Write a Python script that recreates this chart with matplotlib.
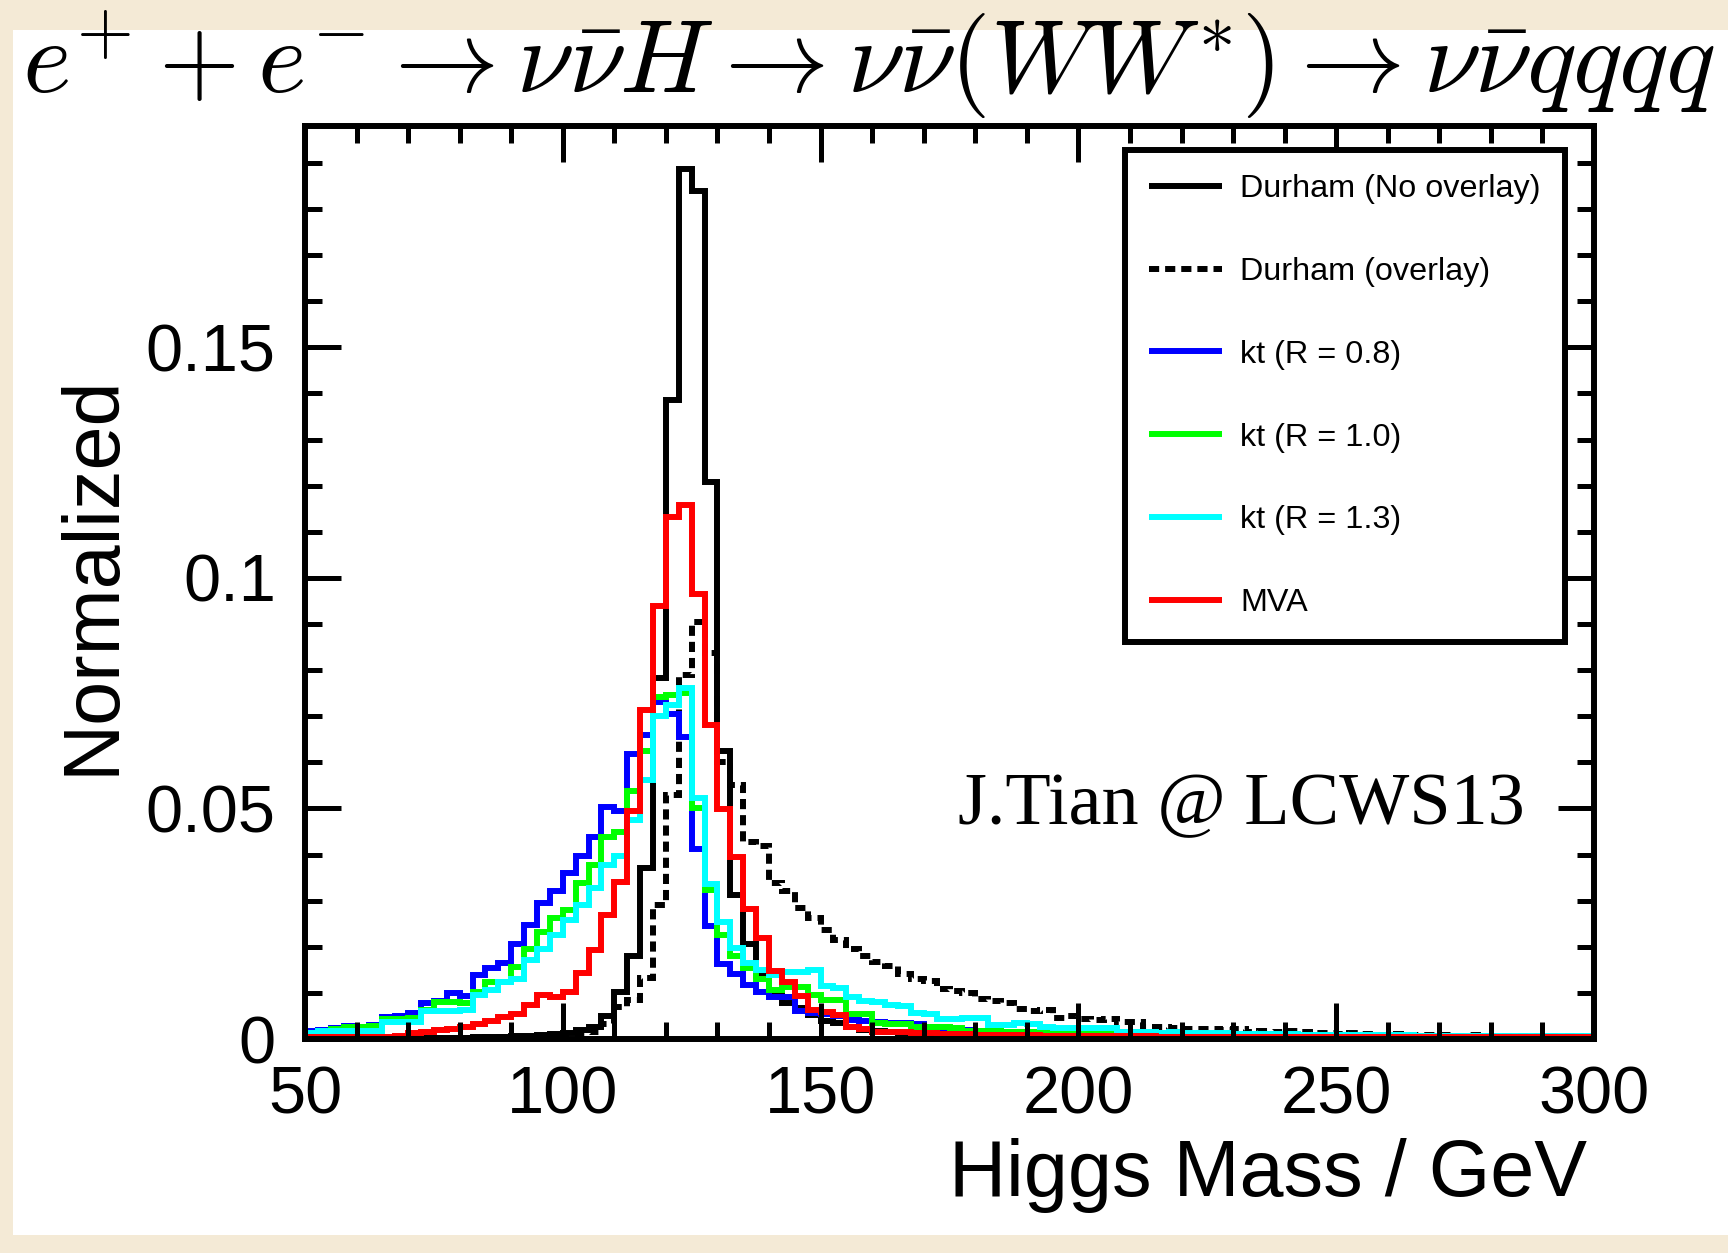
import matplotlib
matplotlib.use("Agg")
import matplotlib.pyplot as plt
import numpy as np
from matplotlib.lines import Line2D
from matplotlib.patches import Rectangle
from matplotlib.ticker import MultipleLocator, FuncFormatter

# Higgs mass histograms, 100 bins of 2.5 GeV from 50 to 300 GeV
BIN_EDGES = np.linspace(50.0, 300.0, 101)

durham_no_overlay = [
    0.0000, 0.0000, 0.0000, 0.0001, 0.0000, 0.0001, 0.0001, 0.0001, 0.0002, 0.0002,
    0.0002, 0.0003, 0.0003, 0.0004, 0.0004, 0.0005, 0.0006, 0.0006, 0.0008, 0.0010,
    0.0012, 0.0019, 0.0026, 0.0050, 0.0101, 0.0181, 0.0370, 0.0783, 0.1385, 0.1887,
    0.1838, 0.1207, 0.0624, 0.0312, 0.0205, 0.0137, 0.0098, 0.0077, 0.0068, 0.0052,
    0.0040, 0.0034, 0.0026, 0.0020, 0.0017, 0.0015, 0.0013, 0.0012, 0.0011, 0.0010,
    0.0009, 0.0009, 0.0008, 0.0008, 0.0007, 0.0007, 0.0006, 0.0006, 0.0006, 0.0005,
    0.0005, 0.0005, 0.0005, 0.0004, 0.0004, 0.0004, 0.0004, 0.0004, 0.0003, 0.0003,
    0.0003, 0.0003, 0.0003, 0.0003, 0.0003, 0.0002, 0.0002, 0.0002, 0.0002, 0.0002,
    0.0002, 0.0002, 0.0002, 0.0002, 0.0002, 0.0002, 0.0002, 0.0001, 0.0001, 0.0001,
    0.0001, 0.0001, 0.0001, 0.0001, 0.0001, 0.0001, 0.0001, 0.0001, 0.0001, 0.0001,
]

durham_overlay = [
    0.0001, 0.0000, 0.0001, 0.0001, 0.0001, 0.0001, 0.0001, 0.0002, 0.0002, 0.0002,
    0.0002, 0.0003, 0.0003, 0.0003, 0.0004, 0.0004, 0.0005, 0.0005, 0.0006, 0.0007,
    0.0008, 0.0010, 0.0015, 0.0033, 0.0070, 0.0085, 0.0132, 0.0290, 0.0530, 0.0790,
    0.0905, 0.0837, 0.0600, 0.0550, 0.0428, 0.0418, 0.0338, 0.0322, 0.0285, 0.0262,
    0.0236, 0.0215, 0.0195, 0.0180, 0.0166, 0.0158, 0.0140, 0.0130, 0.0125, 0.0108,
    0.0104, 0.0100, 0.0087, 0.0082, 0.0078, 0.0064, 0.0060, 0.0062, 0.0046, 0.0050,
    0.0043, 0.0042, 0.0043, 0.0037, 0.0037, 0.0027, 0.0026, 0.0023, 0.0021, 0.0022,
    0.0022, 0.0020, 0.0021, 0.0015, 0.0017, 0.0016, 0.0017, 0.0015, 0.0012, 0.0012,
    0.0011, 0.0012, 0.0010, 0.0009, 0.0010, 0.0009, 0.0008, 0.0009, 0.0008, 0.0007,
    0.0008, 0.0007, 0.0007, 0.0006, 0.0007, 0.0006, 0.0006, 0.0005, 0.0006, 0.0005,
]

kt_r08 = [
    0.0017, 0.0020, 0.0024, 0.0028, 0.0027, 0.0031, 0.0048, 0.0049, 0.0057, 0.0077,
    0.0082, 0.0099, 0.0093, 0.0138, 0.0153, 0.0165, 0.0207, 0.0247, 0.0294, 0.0321,
    0.0361, 0.0397, 0.0437, 0.0504, 0.0495, 0.0617, 0.0660, 0.0730, 0.0705, 0.0655,
    0.0412, 0.0246, 0.0162, 0.0141, 0.0118, 0.0102, 0.0091, 0.0091, 0.0060, 0.0056,
    0.0055, 0.0050, 0.0042, 0.0038, 0.0036, 0.0035, 0.0034, 0.0032, 0.0026, 0.0022,
    0.0020, 0.0019, 0.0018, 0.0017, 0.0016, 0.0015, 0.0014, 0.0014, 0.0013, 0.0012,
    0.0012, 0.0011, 0.0011, 0.0010, 0.0010, 0.0009, 0.0009, 0.0009, 0.0008, 0.0008,
    0.0008, 0.0008, 0.0007, 0.0007, 0.0007, 0.0007, 0.0006, 0.0006, 0.0006, 0.0006,
    0.0006, 0.0005, 0.0005, 0.0005, 0.0005, 0.0005, 0.0005, 0.0005, 0.0004, 0.0004,
    0.0004, 0.0004, 0.0004, 0.0004, 0.0004, 0.0004, 0.0004, 0.0004, 0.0004, 0.0004,
]

kt_r10 = [
    0.0013, 0.0018, 0.0022, 0.0026, 0.0026, 0.0028, 0.0044, 0.0044, 0.0045, 0.0063,
    0.0080, 0.0080, 0.0077, 0.0102, 0.0124, 0.0124, 0.0157, 0.0196, 0.0233, 0.0262,
    0.0280, 0.0338, 0.0378, 0.0439, 0.0450, 0.0537, 0.0625, 0.0741, 0.0745, 0.0750,
    0.0500, 0.0323, 0.0226, 0.0180, 0.0154, 0.0130, 0.0106, 0.0112, 0.0112, 0.0095,
    0.0085, 0.0085, 0.0055, 0.0055, 0.0034, 0.0033, 0.0033, 0.0025, 0.0025, 0.0025,
    0.0024, 0.0018, 0.0017, 0.0017, 0.0016, 0.0016, 0.0015, 0.0015, 0.0015, 0.0014,
    0.0013, 0.0013, 0.0012, 0.0012, 0.0011, 0.0011, 0.0010, 0.0010, 0.0010, 0.0009,
    0.0009, 0.0009, 0.0008, 0.0008, 0.0008, 0.0008, 0.0007, 0.0007, 0.0007, 0.0007,
    0.0007, 0.0006, 0.0006, 0.0006, 0.0006, 0.0006, 0.0006, 0.0006, 0.0005, 0.0005,
    0.0005, 0.0005, 0.0005, 0.0005, 0.0005, 0.0005, 0.0005, 0.0005, 0.0005, 0.0005,
]

kt_r13 = [
    0.0012, 0.0017, 0.0017, 0.0017, 0.0017, 0.0018, 0.0037, 0.0037, 0.0037, 0.0060,
    0.0060, 0.0060, 0.0063, 0.0095, 0.0106, 0.0124, 0.0131, 0.0171, 0.0196, 0.0225,
    0.0258, 0.0290, 0.0327, 0.0378, 0.0396, 0.0474, 0.0562, 0.0700, 0.0725, 0.0762,
    0.0522, 0.0336, 0.0254, 0.0197, 0.0165, 0.0150, 0.0138, 0.0145, 0.0145, 0.0150,
    0.0115, 0.0110, 0.0092, 0.0082, 0.0080, 0.0073, 0.0072, 0.0056, 0.0054, 0.0044,
    0.0043, 0.0046, 0.0045, 0.0031, 0.0030, 0.0034, 0.0033, 0.0025, 0.0024, 0.0024,
    0.0023, 0.0024, 0.0023, 0.0016, 0.0015, 0.0015, 0.0014, 0.0015, 0.0013, 0.0012,
    0.0012, 0.0012, 0.0011, 0.0011, 0.0010, 0.0010, 0.0010, 0.0009, 0.0009, 0.0009,
    0.0009, 0.0008, 0.0008, 0.0008, 0.0008, 0.0008, 0.0007, 0.0007, 0.0007, 0.0007,
    0.0007, 0.0007, 0.0006, 0.0006, 0.0006, 0.0006, 0.0006, 0.0006, 0.0006, 0.0006,
]

mva = [
    0.0004, 0.0004, 0.0004, 0.0005, 0.0005, 0.0005, 0.0005, 0.0006, 0.0012, 0.0015,
    0.0019, 0.0022, 0.0026, 0.0033, 0.0040, 0.0048, 0.0055, 0.0073, 0.0095, 0.0092,
    0.0103, 0.0143, 0.0192, 0.0269, 0.0340, 0.0495, 0.0714, 0.0939, 0.1131, 0.1159,
    0.0964, 0.0682, 0.0499, 0.0394, 0.0283, 0.0218, 0.0148, 0.0124, 0.0093, 0.0062,
    0.0059, 0.0052, 0.0026, 0.0022, 0.0016, 0.0015, 0.0015, 0.0014, 0.0014, 0.0011,
    0.0010, 0.0010, 0.0009, 0.0009, 0.0008, 0.0008, 0.0008, 0.0007, 0.0007, 0.0007,
    0.0006, 0.0006, 0.0006, 0.0006, 0.0006, 0.0006, 0.0005, 0.0005, 0.0005, 0.0005,
    0.0005, 0.0005, 0.0005, 0.0005, 0.0005, 0.0005, 0.0005, 0.0005, 0.0005, 0.0005,
    0.0004, 0.0004, 0.0004, 0.0004, 0.0004, 0.0004, 0.0004, 0.0004, 0.0004, 0.0004,
    0.0004, 0.0004, 0.0004, 0.0004, 0.0004, 0.0004, 0.0004, 0.0004, 0.0004, 0.0004,
]

SERIES = [
    ("Durham (No overlay)", durham_no_overlay, "black", "-"),
    ("Durham (overlay)", durham_overlay, "black", (0, (1.7, 1.0))),
    ("kt (R = 0.8)", kt_r08, "#0000ff", "-"),
    ("kt (R = 1.0)", kt_r10, "#00ff00", "-"),
    ("kt (R = 1.3)", kt_r13, "#00ffff", "-"),
    ("MVA", mva, "#ff0000", "-"),
]

W, H = 1728, 1253
LW = 4.3
SANS = ["Liberation Sans", "DejaVu Sans"]

plt.rcParams["mathtext.fontset"] = "cm"
plt.rcParams["font.family"] = SANS

fig = plt.figure(figsize=(W / 100, H / 100), dpi=100)
fig.patch.set_facecolor("#f4ead6")
fig.add_artist(Rectangle((13 / W, 1 - 1235 / H), 1 - 13 / W, (1235 - 30) / H,
                         transform=fig.transFigure, facecolor="white",
                         edgecolor="none", zorder=-5))

ax = fig.add_axes([305 / W, 1 - 1039 / H, (1594 - 305) / W, (1039 - 126) / H])

handles = []
for label, values, color, ls in SERIES:
    ax.stairs(values, BIN_EDGES, baseline=None, color=color, linestyle=ls,
              linewidth=LW)
    handles.append(Line2D([], [], color=color, linestyle=ls, linewidth=LW,
                          solid_capstyle="butt", dash_capstyle="butt",
                          label=label))

ax.set_xlim(50, 300)
ax.set_ylim(0, 0.198)
ax.xaxis.set_major_locator(MultipleLocator(50))
ax.xaxis.set_minor_locator(MultipleLocator(10))
ax.yaxis.set_major_locator(MultipleLocator(0.05))
ax.yaxis.set_minor_locator(MultipleLocator(0.01))
ax.yaxis.set_major_formatter(FuncFormatter(lambda v, p: f"{v:g}"))
ax.tick_params(which="both", direction="in", top=True, right=True,
               width=3.6, labelsize=48)
ax.tick_params(which="major", length=26)
ax.tick_params(which="minor", length=12)
ax.tick_params(axis="x", pad=19)
ax.tick_params(axis="y", pad=21)
for sp in ax.spines.values():
    sp.set_linewidth(LW)

leg = ax.legend(handles=handles, loc="upper left",
                bbox_to_anchor=(1125 / W, 1 - 150 / H),
                bbox_transform=fig.transFigure, borderaxespad=0,
                fontsize=23.3, labelspacing=1.63, handlelength=2.25,
                handletextpad=0.55, borderpad=0.75, fancybox=False,
                framealpha=1, edgecolor="black")
leg.get_frame().set_linewidth(LW)

ax.text(176.6, 0.0465, "J.Tian @ LCWS13", fontsize=53.5,
        family=["Liberation Serif", "DejaVu Serif"], color="black")

fig.text(93 / W, 0.541, "Normalized", rotation=90, fontsize=57,
         ha="center", va="center")
fig.text(1587 / W, 1 - 1196 / H, "Higgs Mass / GeV", fontsize=57,
         ha="right", va="baseline")

fig.text(22 / W, 1 - 94 / H,
         r"$e^{+} + e^{-} \rightarrow \nu\bar{\nu}H \rightarrow "
         r"\nu\bar{\nu}(WW^{*}) \rightarrow \nu\bar{\nu}qqqq$",
         fontsize=75, ha="left", va="baseline")

fig.savefig("out.png", dpi=100, facecolor=fig.get_facecolor())
